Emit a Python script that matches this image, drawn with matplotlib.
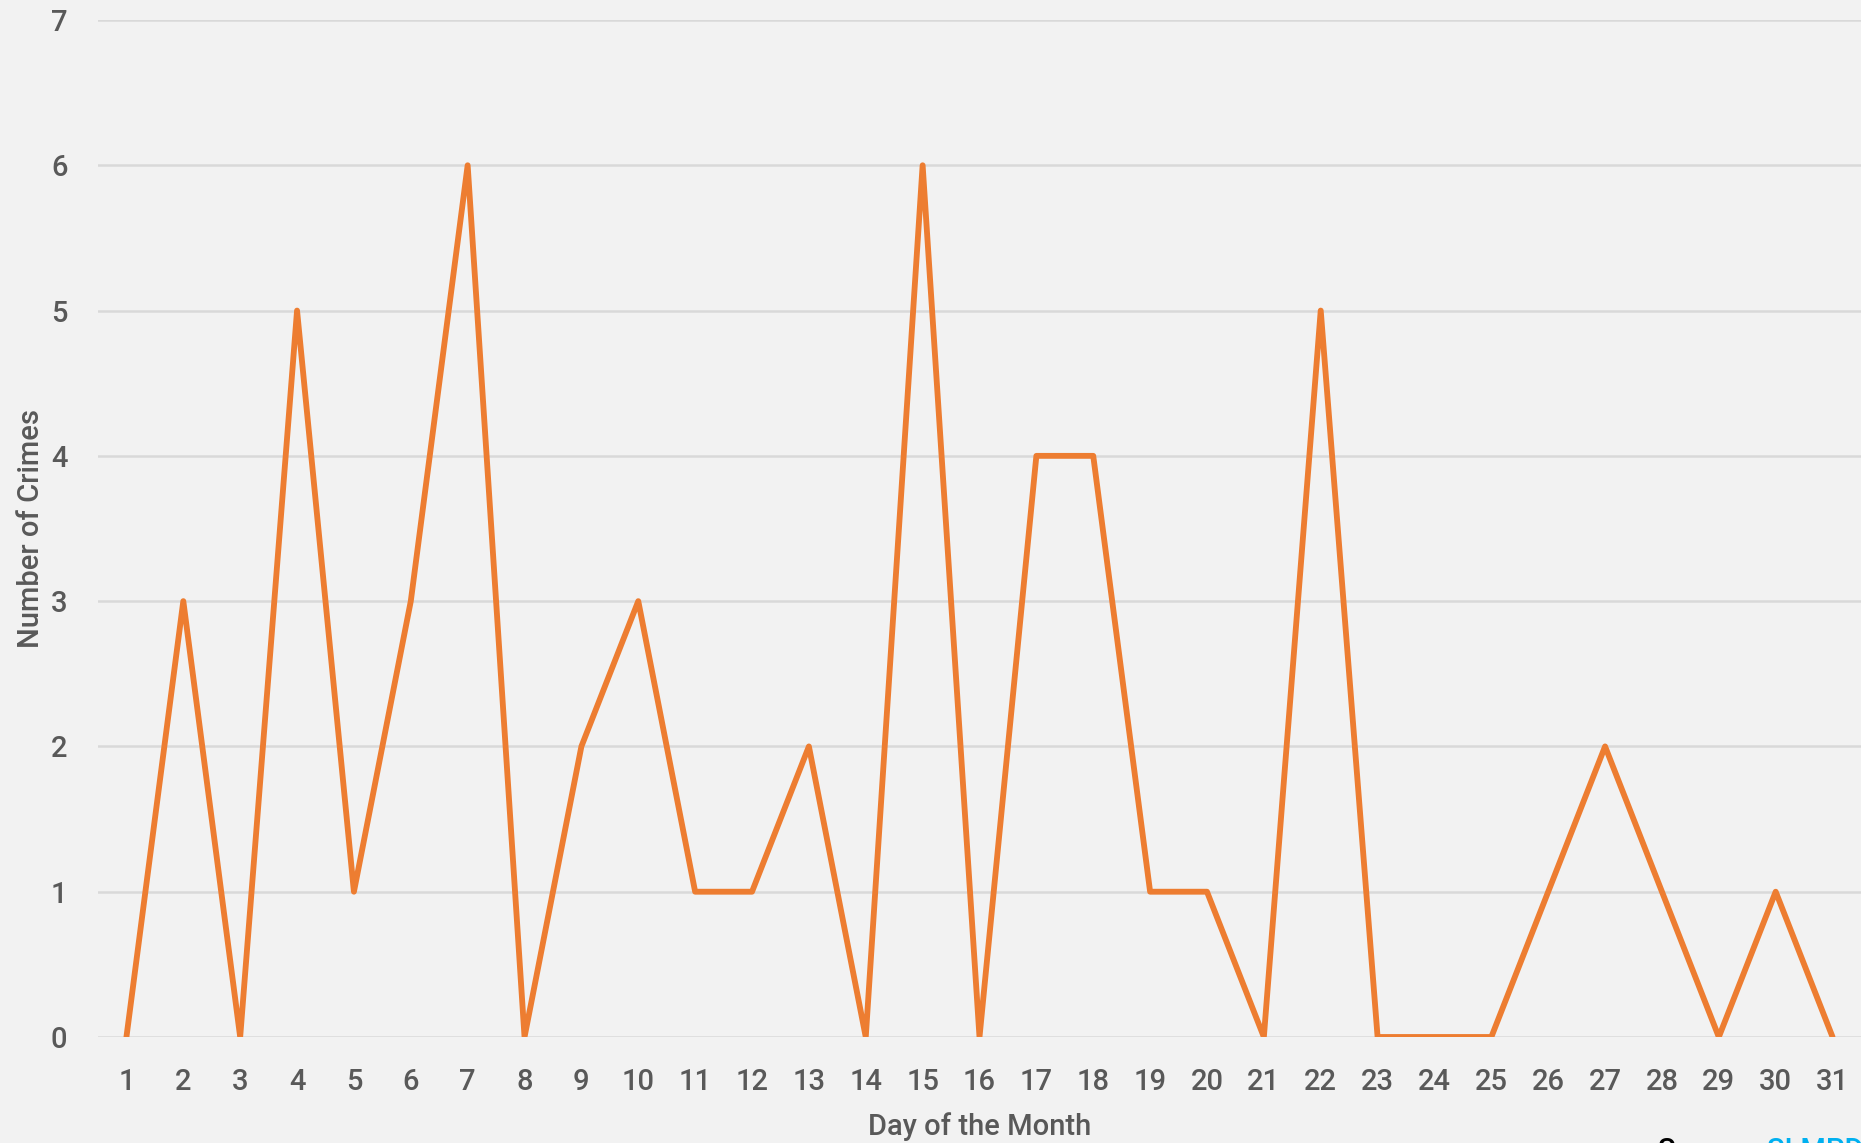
import matplotlib.pyplot as plt

# crimes per day of month
days = list(range(1, 32))
crimes = [0, 3, 0, 5, 1, 3, 6, 0, 2, 3, 1, 1, 2, 0, 6, 0, 4, 4, 1, 1,
          0, 5, 0, 0, 0, 1, 2, 1, 0, 1, 0]
y_ticks = list(range(0, 8))

bg = '#f2f2f2'
text_col = '#595959'
line_col = '#ed7d31'
grid_col = '#d9d9d9'

plt.rcParams['font.family'] = ['Roboto', 'DejaVu Sans']
plt.rcParams['font.weight'] = 'medium'

fig = plt.figure(figsize=(18.61, 11.43), dpi=100, facecolor=bg)
ax = fig.add_axes([98 / 1861, 1 - 1037 / 1143, 1 - 98 / 1861, (1037 - 20) / 1143])
ax.set_facecolor(bg)

ax.plot(days, crimes, color=line_col, linewidth=4.2,
        solid_joinstyle='round', solid_capstyle='round', zorder=3)

ax.set_xlim(0.5, 31.5)
ax.set_ylim(0, 7)
ax.set_xticks(days)
ax.set_yticks(y_ticks)
ax.tick_params(axis='both', length=0, labelsize=21, labelcolor=text_col)
ax.tick_params(axis='x', pad=22)
ax.tick_params(axis='y', pad=22)

ax.grid(axis='y', color=grid_col, linewidth=1.8, zorder=0)
for s in ax.spines.values():
    s.set_visible(False)

ax.set_xlabel('Day of the Month', fontsize=21, fontweight='medium', color=text_col, labelpad=12)
ax.set_ylabel('Number of Crimes', fontsize=21, fontweight='medium', color=text_col, labelpad=4)

# source note, mostly cut off at the bottom edge
fig.text(1658 / 1861, 6 / 1143, 'Source: ', fontsize=21, color='black', va='top', ha='left')
fig.text(1767 / 1861, 6 / 1143, 'SLMPD', fontsize=21, color='#00b0f0', va='top', ha='left')

fig.savefig('out.png', dpi=100, facecolor=bg)
